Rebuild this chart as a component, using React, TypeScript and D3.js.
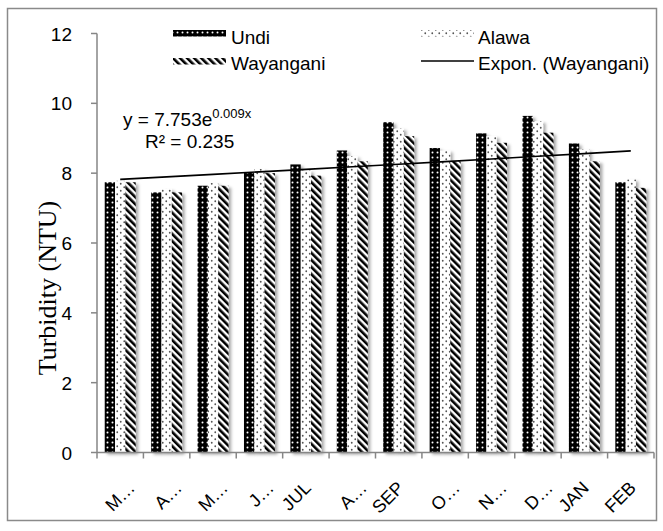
import React from "react";
import * as d3 from "d3";

const months = ["M…", "A…", "M…", "J…", "JUL", "A…", "SEP", "O…", "N…", "D…", "JAN", "FEB"];
const truncated = [true, true, true, true, false, true, false, true, true, true, false, false];
const undi = [7.74, 7.45, 7.64, 8.01, 8.25, 8.65, 9.46, 8.72, 9.14, 9.64, 8.85, 7.74];
const alawa = [7.78, 7.55, 7.72, 8.12, 8.08, 8.49, 9.28, 8.65, 9.06, 9.49, 8.68, 7.82];
const wayangani = [7.74, 7.45, 7.64, 8.0, 7.93, 8.34, 9.06, 8.34, 8.87, 9.16, 8.34, 7.58];
const seriesNames = ["Undi", "Alawa", "Wayangani"];
const yTicks = [0, 2, 4, 6, 8, 10, 12];
const trendA = 7.753;
const trendB = 0.009;

const W = 663;
const H = 531;
const left = 97;
const right = 654;
const top = 33.5;
const bottom = 452.5;

export default function App() {
  const x = d3.scaleBand<number>().domain(d3.range(months.length)).range([left, right]).paddingInner(0).paddingOuter(0);
  const y = d3.scaleLinear().domain([0, 12]).range([bottom, top]);
  const bw = x.bandwidth() / 4.5;
  const series = [undi, alawa, wayangani];
  const fills = ["url(#pUndi)", "url(#pAlawa)", "url(#pWay)"];
  const trendPts = months.map((_, i) => [x(i)! + x.bandwidth() / 2, y(trendA * Math.exp(trendB * (i + 1)))] as [number, number]);
  const line = d3.line();
  const font = "'Liberation Sans', Arial, sans-serif";

  return (
    <svg width={W} height={H} style={{ position: "absolute", left: 0, top: 0, background: "#fff" }}>
      <defs>
        <pattern id="pUndi" width="5" height="5" patternUnits="userSpaceOnUse">
          <rect width="5" height="5" fill="#000" />
          <circle cx="2.5" cy="2.5" r="1" fill="#fff" />
        </pattern>
        <pattern id="pAlawa" width="7" height="7" patternUnits="userSpaceOnUse">
          <rect width="7" height="7" fill="#fff" />
          <circle cx="1.75" cy="1.75" r="0.9" fill="#555" />
          <circle cx="5.25" cy="5.25" r="0.9" fill="#555" />
        </pattern>
        <pattern id="pWay" width="5" height="5" patternUnits="userSpaceOnUse" patternTransform="rotate(-45)">
          <rect width="5" height="5" fill="#fff" />
          <rect width="2.6" height="5" fill="#000" />
        </pattern>
        <filter id="shadow" x="-50%" y="-10%" width="200%" height="130%">
          <feDropShadow dx="2.5" dy="2" stdDeviation="1.4" floodColor="#000" floodOpacity="0.35" />
        </filter>
      </defs>
      <rect x={7.5} y={8.5} width={649} height={512} fill="#fff" stroke="#8a8a8a" strokeWidth={1.5} />

      {series.map((vals, s) => (
        <g key={seriesNames[s]} filter="url(#shadow)">
          {vals.map((v, i) => (
            <rect key={i} x={x(i)! + 0.75 * bw + s * bw} y={y(v)} width={bw} height={y(0) - y(v)} fill={fills[s]} />
          ))}
        </g>
      ))}

      <line x1={left} x2={left} y1={top} y2={bottom} stroke="#868686" strokeWidth={1.5} />
      {yTicks.map((t) => (
        <g key={t}>
          <line x1={left - 6} x2={left} y1={y(t)} y2={y(t)} stroke="#868686" strokeWidth={1.5} />
          <text x={72} y={y(t) + 7} textAnchor="end" fontFamily={font} fontSize={19} fill="#000">{t}</text>
        </g>
      ))}
      <line x1={left} x2={right} y1={bottom} y2={bottom} stroke="#868686" strokeWidth={1.5} />
      {d3.range(months.length + 1).map((i) => {
        const xx = left + i * x.step();
        return <line key={i} x1={xx} x2={xx} y1={bottom} y2={bottom + 6} stroke="#868686" strokeWidth={1.5} />;
      })}
      {months.map((m, i) => {
        const cx = Math.round(x(i)! + x.bandwidth() / 2 + (truncated[i] ? 16 : 6));
        const cy = 489;
        return (
          <text key={i} x={cx} y={cy} textAnchor="end" transform={"rotate(-45 " + cx + " " + cy + ")"} fontFamily={font} fontSize={18} fill="#000">{m}</text>
        );
      })}

      <path d={line(trendPts)!} fill="none" stroke="#000" strokeWidth={1.6} />

      <text x={123} y={126} fontFamily={font} fontSize={19} fill="#000">
        y = 7.753e<tspan fontSize={13} dy={-8}>0.009x</tspan>
      </text>
      <text x={145} y={148} fontFamily={font} fontSize={19} fill="#000">R² = 0.235</text>

      <g transform="translate(56,288) rotate(-90)">
        <text x={0} y={0} textAnchor="middle" fontFamily="'Liberation Serif', 'Times New Roman', serif" fontSize={26} fill="#000">
          Turbidity (NTU)
        </text>
      </g>

      <g>
        <rect x={173} y={30} width={53} height={6.5} fill="url(#pUndi)" />
        <text x={231} y={44} fontFamily={font} fontSize={19}>Undi</text>
        <rect x={421} y={30} width={53} height={6.5} fill="url(#pAlawa)" />
        <text x={478} y={44} fontFamily={font} fontSize={19}>Alawa</text>
        <rect x={173} y={58} width={53} height={6.5} fill="url(#pWay)" />
        <text x={231} y={70} fontFamily={font} fontSize={19}>Wayangani</text>
        <line x1={421} x2={474} y1={61} y2={61} stroke="#000" strokeWidth={1.6} />
        <text x={478} y={70} fontFamily={font} fontSize={19}>Expon. (Wayangani)</text>
      </g>
    </svg>
  );
}
